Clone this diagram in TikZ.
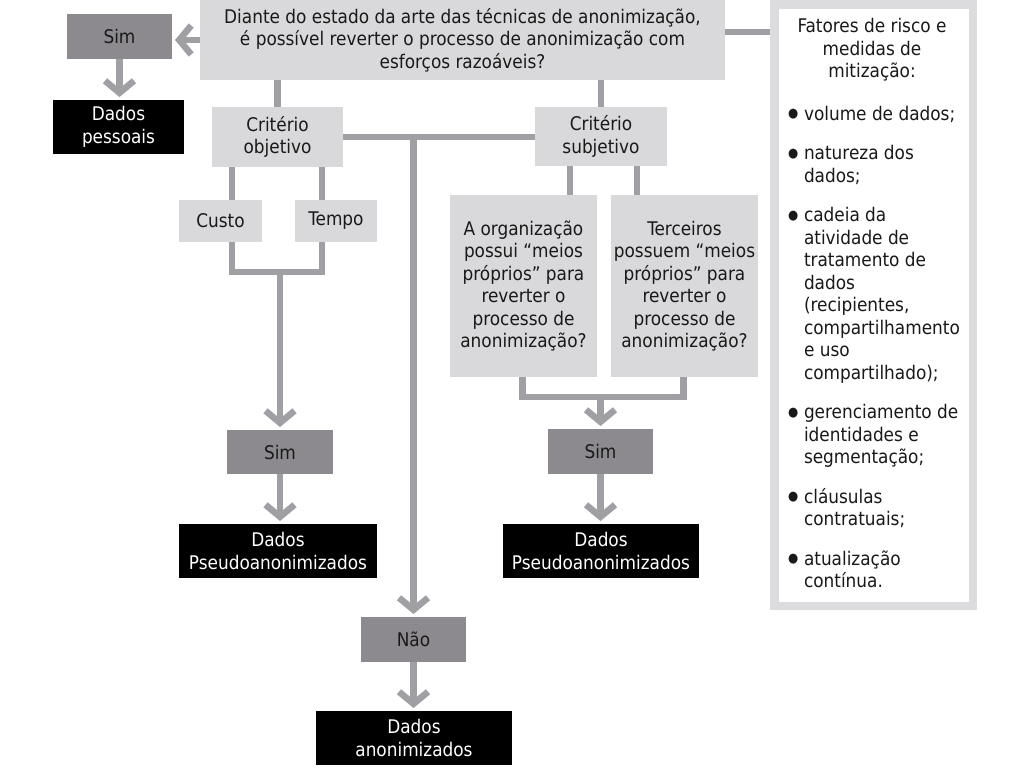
\documentclass[tikz,border=0pt]{standalone}
\usepackage{fontspec}
\setmainfont{DejaVu Sans Condensed}
\usepackage{tikz}
\usetikzlibrary{arrows.meta}

\definecolor{cinzaclaro}{RGB}{217,217,219}
\definecolor{cinzaescuro}{RGB}{140,138,142}
\definecolor{cinzalinha}{RGB}{160,159,163}
\definecolor{cinzaborda}{RGB}{220,220,222}

\newcommand{\marca}{\makebox[16pt][l]{\raisebox{2.5pt}{\fontsize{13}{0}\selectfont ●}}}
\newcommand{\recuo}{\hspace*{16pt}}

\begin{document}
\begin{tikzpicture}[x=1pt,y=-1pt,
caixa/.style={align=center, inner sep=0pt, outer sep=0pt, text=black!90, font=\fontsize{18.8}{22.5}\selectfont},
clara/.style={caixa, fill=cinzaclaro},
escura/.style={caixa, fill=cinzaescuro},
preta/.style={caixa, fill=black, text=white},
tam/.style 2 args={minimum width=#1pt, minimum height=#2pt},
linha/.style={draw=cinzalinha, line width=6.5pt},
seta/.style={linha, -{Straight Barb[length=12pt,width=29pt]}, shorten >=3pt}]

\useasboundingbox (0,0) rectangle (1024,771);

\node[clara, tam={525}{80}] (pergunta) at (462.5,40) {Diante do estado da arte das técnicas de anonimização,\\ é possível reverter o processo de anonimização com\\ esforços razoáveis?};

\node[escura, tam={105}{45}] (sim1) at (119.5,36.5) {Sim};
\node[preta, tam={131}{54}] (pessoais) at (118.5,127) {Dados\\ pessoais};

\node[clara, tam={131}{60}] (objetivo) at (277.5,137) {Critério\\ objetivo};
\node[clara, tam={132}{59}] (subjetivo) at (601,136.5) {Critério\\ subjetivo};
\node[clara, tam={83}{42}] (custo) at (220.5,221) {Custo};
\node[clara, tam={82}{42}] (tempo) at (336,221) {Tempo};
\node[clara, tam={147}{182}] (org) at (523.5,286) {A organização\\ possui “meios\\ próprios” para\\ reverter o\\ processo de\\ anonimização?};
\node[clara, tam={147}{182}] (terceiros) at (684.5,286) {Terceiros\\ possuem “meios\\ próprios” para\\ reverter o\\ processo de\\ anonimização?};

\node[escura, tam={106}{44}] (sim2) at (280,452) {Sim};
\node[preta, tam={198}{54}] (pseudo1) at (278,551) {Dados\\ Pseudoanonimizados};
\node[escura, tam={105}{45}] (sim3) at (600.5,451.5) {Sim};
\node[preta, tam={196}{54}] (pseudo2) at (601,551) {Dados\\ Pseudoanonimizados};
\node[escura, tam={105}{45}] (nao) at (413.5,639.5) {Não};
\node[preta, tam={196}{54}] (anonimos) at (414,738) {Dados\\ anonimizados};

% quadro lateral
\node[draw=cinzaborda, line width=8.5pt, fill=white, inner sep=0pt, tam={198.5}{601.5}] (painel) at (873.5,305) {};
\node[caixa] (titulo) at (872,50) {Fatores de risco e\\ medidas de\\ mitização:};
\node[caixa, align=left, anchor=north west] (lista) at (788,106) {%
\marca volume de dados;\\[17pt]
\marca natureza dos\\ \recuo dados;\\[17pt]
\marca cadeia da\\ \recuo atividade de\\ \recuo tratamento de\\ \recuo dados\\ \recuo (recipientes,\\ \recuo compartilhamento\\ \recuo e uso\\ \recuo compartilhado);\\[17pt]
\marca gerenciamento de\\ \recuo identidades e\\ \recuo segmentação;\\[17pt]
\marca cláusulas\\ \recuo contratuais;\\[17pt]
\marca atualização\\ \recuo contínua.};

% conexoes
\draw[seta] (pergunta.west) -- (pergunta.west -| sim1.east);
\draw[seta] (sim1.south) -- (sim1.south |- pessoais.north);
\draw[linha] (pergunta.south -| objetivo) -- (objetivo.north);
\draw[linha] (pergunta.south -| subjetivo) -- (subjetivo.north);
\draw[linha] (objetivo.east) -- (objetivo.east -| subjetivo.west);
\coordinate (cruzamento) at (objetivo.east -| nao.north);
\draw[seta] (cruzamento) -- (nao.north);
\draw[linha] ([yshift=8pt]pergunta.east) -- ([yshift=8pt]pergunta.east -| painel.west);

\draw[linha] ([xshift=11.5pt]custo.north) -- ++(0,-33);
\draw[linha] ([xshift=-14pt]tempo.north) -- ++(0,-33);
\draw[linha] ([xshift=11.5pt]custo.south) -- ++(0,30) coordinate (baseobj) -| ([xshift=-14pt]tempo.south);
\draw[seta] (baseobj -| sim2.north) -- (sim2.north);

\draw[linha] ([xshift=-31pt]subjetivo.south) -- ++(0,29);
\draw[linha] ([xshift=36pt]subjetivo.south) -- ++(0,29);
\draw[linha] ([xshift=-1pt]org.south) -- ++(0,20) coordinate (basesub) -| ([xshift=-1pt]terceiros.south);
\draw[seta] (basesub -| sim3.north) -- (sim3.north);

\draw[seta] (sim2.south) -- (sim2.south |- pseudo1.north);
\draw[seta] (sim3.south) -- (sim3.south |- pseudo2.north);
\draw[seta] (nao.south) -- (nao.south |- anonimos.north);
\end{tikzpicture}
\end{document}
